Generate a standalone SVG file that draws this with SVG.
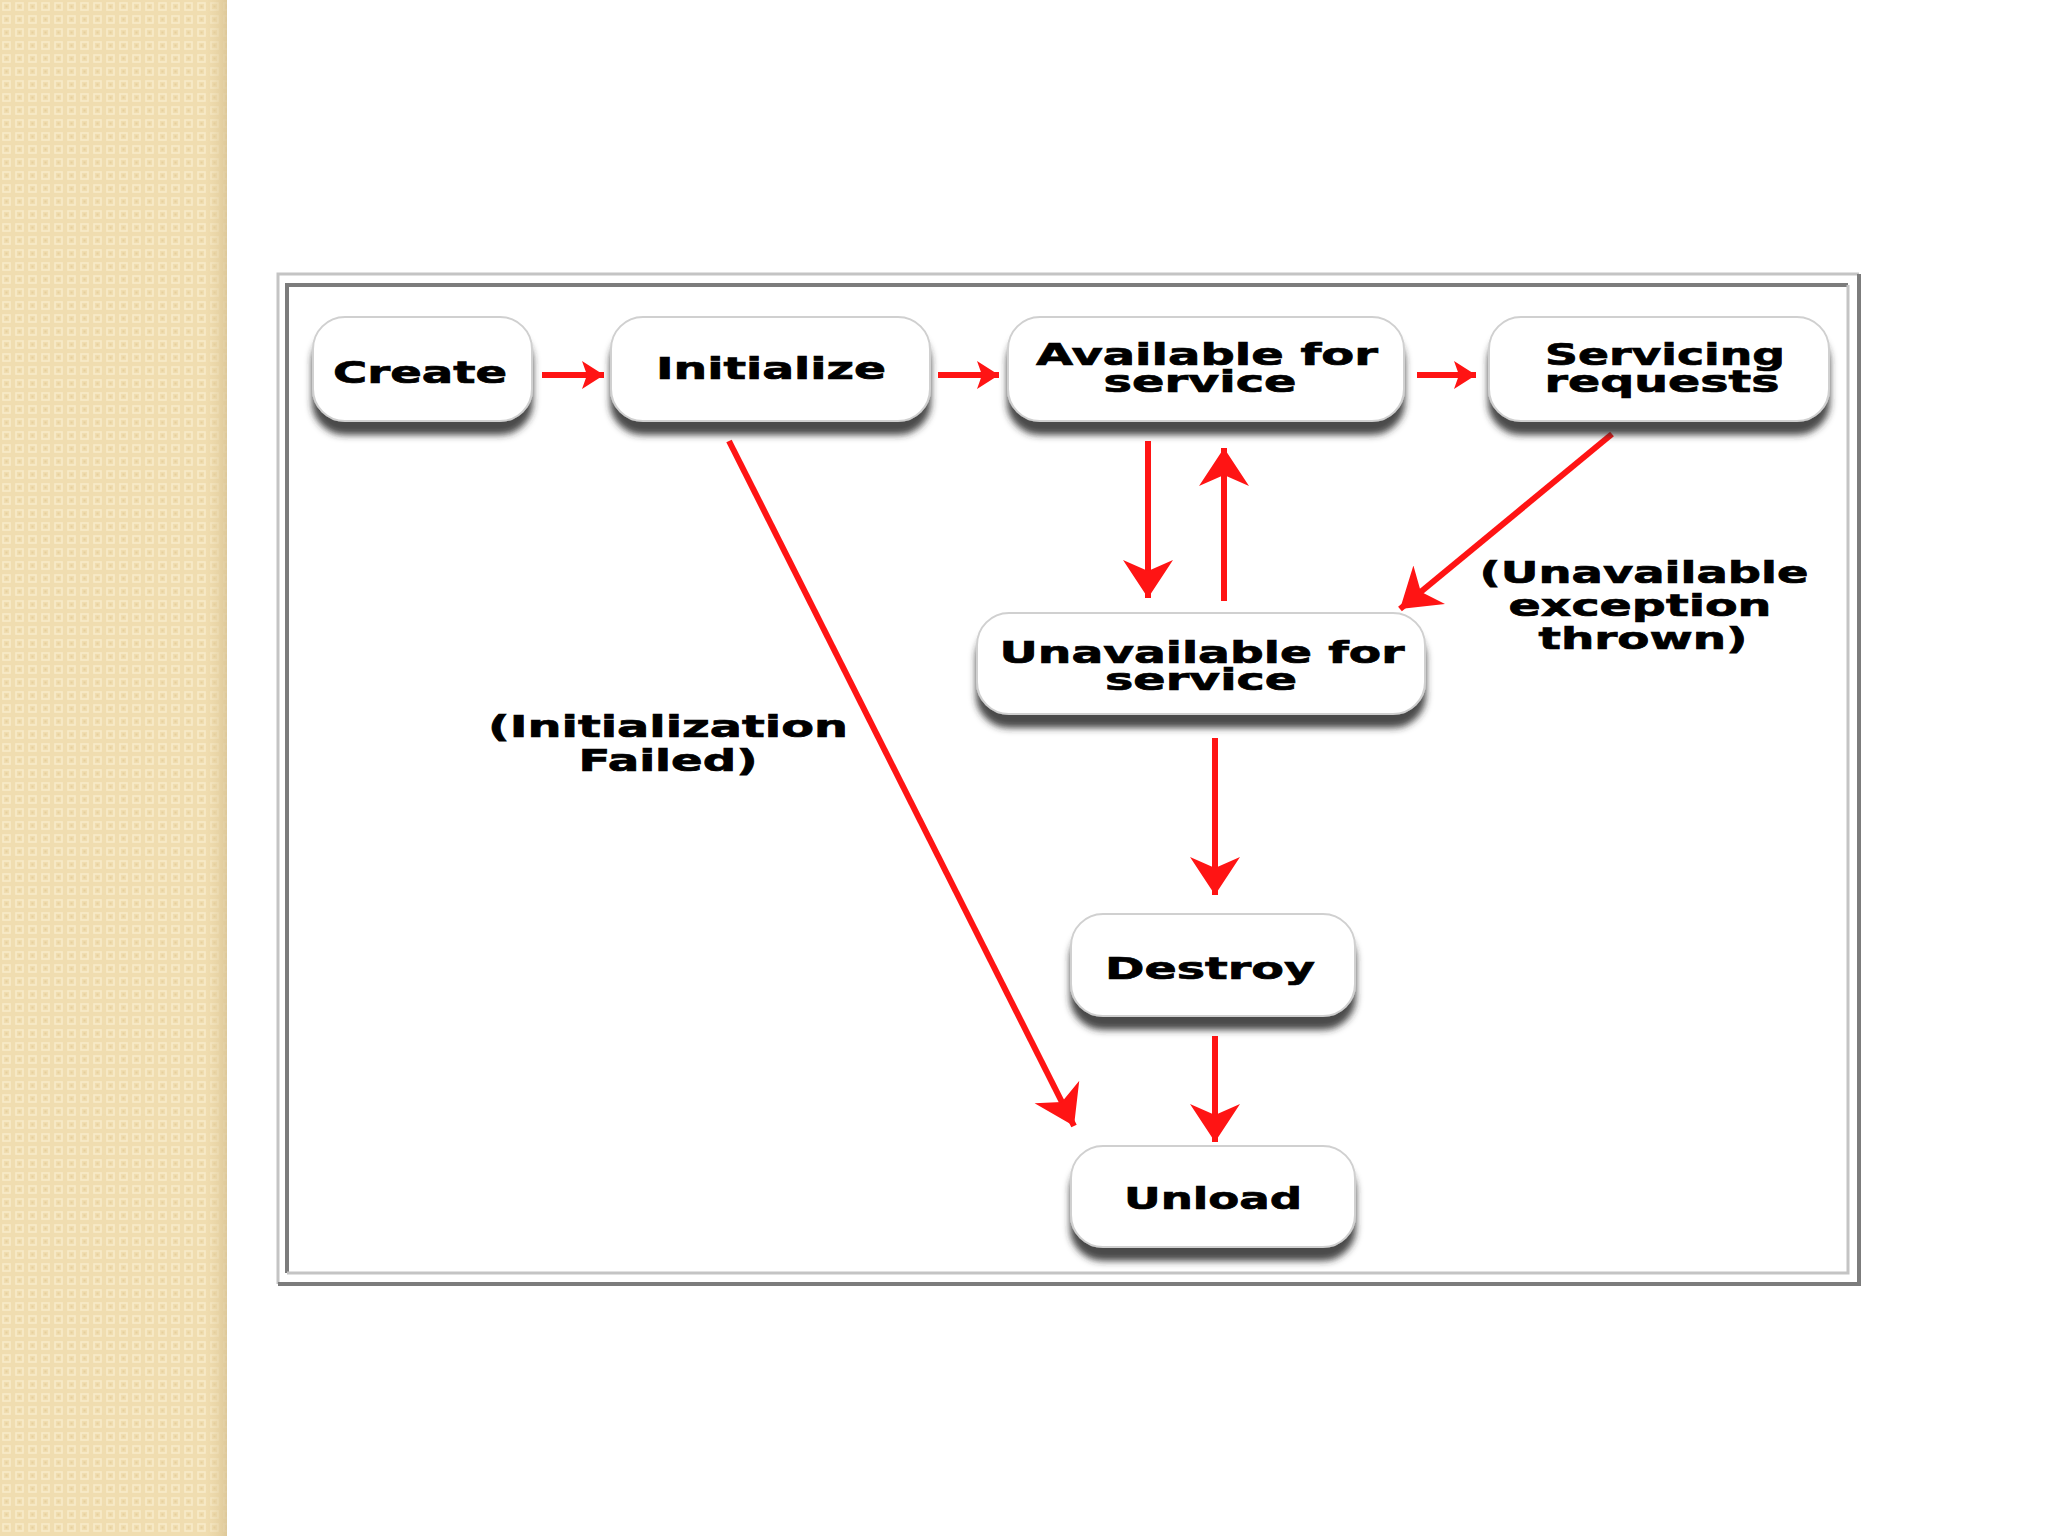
<svg xmlns="http://www.w3.org/2000/svg" width="2048" height="1536" viewBox="0 0 2048 1536">
<style>
.node rect.box{fill:#ffffff;stroke:#d0d0d0;stroke-width:2;filter:url(#shadow)}
.node text,.label{font-family:"DejaVu Sans","Liberation Sans",sans-serif;font-weight:bold;font-size:31px;fill:#000;stroke:#000;stroke-width:0.7;text-anchor:middle}
.conn path{fill:none;stroke:#ff1414;stroke-width:6}
.lt{fill:none;stroke:#c4c4c4;stroke-width:3}
.dk{fill:none;stroke:#7c7c7c;stroke-width:4}
</style>
<defs>
<pattern id="dots" width="13" height="13" patternUnits="userSpaceOnUse">
<rect width="13" height="13" fill="#f0ddb0"/>
<rect x="3" y="3" width="7" height="7" fill="none" stroke="#f8ebc9" stroke-width="1.6"/>
<rect x="5.5" y="5.5" width="2" height="2" fill="#e6cf9c"/>
</pattern>
<linearGradient id="edge" x1="0" x2="1" y1="0" y2="0">
<stop offset="0" stop-color="#e8d3a2" stop-opacity="0"/>
<stop offset="1" stop-color="#d9c394" stop-opacity="0.8"/>
</linearGradient>
<filter id="shadow" x="-10%" y="-20%" width="120%" height="170%">
<feDropShadow dx="0" dy="13" stdDeviation="3.5" flood-color="#2a2a2a" flood-opacity="0.85"/>
</filter>
<marker id="hs" markerUnits="userSpaceOnUse" markerWidth="24" markerHeight="30" refX="22" refY="14" orient="auto" viewBox="0 0 24 30">
<path d="M0,0 L22,14 L0,28 L5,14 z" fill="#ff1414"/>
</marker>
<marker id="hb" markerUnits="userSpaceOnUse" markerWidth="40" markerHeight="52" refX="38" refY="25" orient="auto" viewBox="0 0 40 52">
<path d="M0,0 L38,25 L0,50 L11,25 z" fill="#ff1414"/>
</marker>
</defs>
<rect width="2048" height="1536" fill="#ffffff"/>
<rect x="0" y="0" width="227" height="1536" fill="url(#dots)"/>
<rect x="205" y="0" width="22" height="1536" fill="url(#edge)"/>

<g id="frame">
<rect x="278" y="274" width="1581" height="1010" fill="#ffffff"/>
<polyline class="lt" points="278,1284 278,274 1859,274"/>
<polyline class="dk" points="1859,274 1859,1284 278,1284"/>
<polyline class="dk" points="287,1273 287,285 1848,285"/>
<polyline class="lt" points="1848,285 1848,1273 287,1273"/>
</g>

<g id="connectors" class="conn">
<path d="M542,375 L604,375" marker-end="url(#hs)"/>
<path d="M938,375 L999,375" marker-end="url(#hs)"/>
<path d="M1417,375 L1476,375" marker-end="url(#hs)"/>
<path d="M1148,441 L1148,598" marker-end="url(#hb)"/>
<path d="M1224,601 L1224,448" marker-end="url(#hb)"/>
<path d="M1612,434 L1400,609" marker-end="url(#hb)"/>
<path d="M729,441 L1074,1126" marker-end="url(#hb)"/>
<path d="M1215,738 L1215,895" marker-end="url(#hb)"/>
<path d="M1215,1036 L1215,1142" marker-end="url(#hb)"/>
</g>

<g id="create" class="node">
<rect class="box" x="313" y="317" width="219" height="104" rx="32"/>
<text x="420" y="383" textLength="174" lengthAdjust="spacingAndGlyphs">Create</text>
</g>
<g id="initialize" class="node">
<rect class="box" x="611" y="317" width="319" height="104" rx="32"/>
<text x="771" y="379" textLength="230" lengthAdjust="spacingAndGlyphs">Initialize</text>
</g>
<g id="available" class="node">
<rect class="box" x="1008" y="317" width="396" height="104" rx="32"/>
<text x="1207" y="365" textLength="342" lengthAdjust="spacingAndGlyphs">Available for</text>
<text x="1200" y="392" textLength="193" lengthAdjust="spacingAndGlyphs">service</text>
</g>
<g id="servicing" class="node">
<rect class="box" x="1489" y="317" width="340" height="104" rx="32"/>
<text x="1665" y="365" textLength="240" lengthAdjust="spacingAndGlyphs">Servicing</text>
<text x="1662" y="392" textLength="235" lengthAdjust="spacingAndGlyphs">requests</text>
</g>
<g id="unavailable" class="node">
<rect class="box" x="977" y="613" width="448" height="101" rx="32"/>
<text x="1202" y="663" textLength="405" lengthAdjust="spacingAndGlyphs">Unavailable for</text>
<text x="1201" y="690" textLength="192" lengthAdjust="spacingAndGlyphs">service</text>
</g>
<g id="destroy" class="node">
<rect class="box" x="1071" y="914" width="284" height="102" rx="32"/>
<text x="1210" y="979" textLength="210" lengthAdjust="spacingAndGlyphs">Destroy</text>
</g>
<g id="unload" class="node">
<rect class="box" x="1071" y="1146" width="284" height="101" rx="32"/>
<text x="1213" y="1209" textLength="178" lengthAdjust="spacingAndGlyphs">Unload</text>
</g>

<g id="labels">
<text class="label" x="668" y="737" textLength="360" lengthAdjust="spacingAndGlyphs">(Initialization</text>
<text class="label" x="668" y="771" textLength="179" lengthAdjust="spacingAndGlyphs">Failed)</text>
<text class="label" x="1644" y="583" textLength="329" lengthAdjust="spacingAndGlyphs">(Unavailable</text>
<text class="label" x="1640" y="616" textLength="263" lengthAdjust="spacingAndGlyphs">exception</text>
<text class="label" x="1643" y="649" textLength="209" lengthAdjust="spacingAndGlyphs">thrown)</text>
</g>
</svg>
